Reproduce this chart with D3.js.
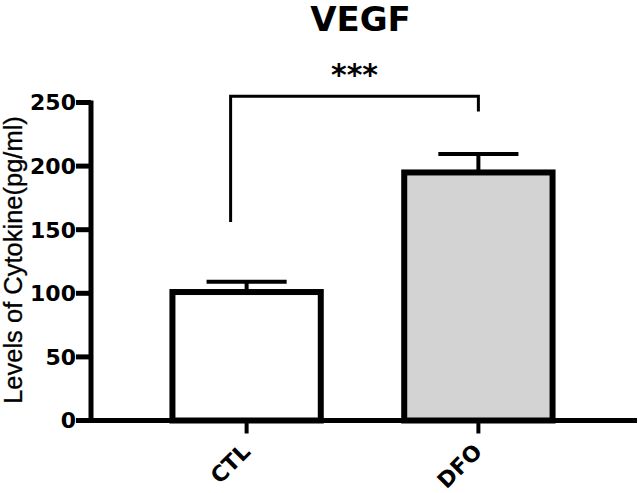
<!DOCTYPE html>
<html>
<head>
<meta charset="utf-8">
<script src="https://cdn.jsdelivr.net/npm/d3@7"></script>
<style>
  html, body { margin: 0; padding: 0; background: #fff; }
  svg { display: block; }
</style>
</head>
<body>
<svg id="chart" width="638" height="493"></svg>
<script>
// ---- data ----
const categories = ["CTL", "DFO"];
const means = [101, 195];
const sems = [8, 14.5];
const fills = ["#ffffff", "#d3d3d3"];
const yTicks = [0, 50, 100, 150, 200, 250];
const title = "VEGF";
const yLabel = "Levels of Cytokine(pg/ml)";
const sigLabel = "***";
const sigBracket = [156, 255, 243]; // left end, bracket level, right end (data units)

// ---- layout ----
const svg = d3.select("#chart");
const plotLeft = 91, plotRight = 637, plotTop = 102.5, plotBottom = 420.5;

const y = d3.scaleLinear().domain([0, 250]).range([plotBottom, plotTop]);
const x = d3.scaleBand().domain(categories).range([89, 636])
  .paddingInner(0.36).paddingOuter(0.36);
const bw = x.bandwidth();
const cx = c => x(c) + bw / 2;

const boldFont = "'DejaVu Sans', sans-serif";

// title
svg.append("text")
  .attr("x", 360.5).attr("y", 31)
  .attr("text-anchor", "middle")
  .attr("font-family", boldFont).attr("font-weight", "bold")
  .attr("font-size", 34).attr("fill", "#000")
  .text(title);

// bars
const g = svg.append("g");
g.selectAll("rect.bar").data(categories).join("rect")
  .attr("class", "bar")
  .attr("x", d => x(d))
  .attr("y", (d, i) => y(means[i]))
  .attr("width", bw)
  .attr("height", (d, i) => y(0) - y(means[i]))
  .attr("fill", (d, i) => fills[i])
  .attr("stroke", "#000").attr("stroke-width", 6);

// error bars (upper only)
const capW = bw * 0.54;
g.selectAll("line.err").data(categories).join("line")
  .attr("class", "err")
  .attr("x1", d => cx(d)).attr("x2", d => cx(d))
  .attr("y1", (d, i) => y(means[i]))
  .attr("y2", (d, i) => y(means[i] + sems[i]))
  .attr("stroke", "#000").attr("stroke-width", 4);
g.selectAll("line.cap").data(categories).join("line")
  .attr("class", "cap")
  .attr("x1", d => cx(d) - capW / 2).attr("x2", d => cx(d) + capW / 2)
  .attr("y1", (d, i) => y(means[i] + sems[i]))
  .attr("y2", (d, i) => y(means[i] + sems[i]))
  .attr("stroke", "#000").attr("stroke-width", 4);

// y axis
const yAxis = svg.append("g");
yAxis.append("line")
  .attr("x1", plotLeft).attr("x2", plotLeft)
  .attr("y1", y(250) - 2).attr("y2", y(0) + 2.5)
  .attr("stroke", "#000").attr("stroke-width", 5);
yAxis.selectAll("line.tick").data(yTicks).join("line")
  .attr("class", "tick")
  .attr("x1", plotLeft - 15).attr("x2", plotLeft)
  .attr("y1", d => y(d)).attr("y2", d => y(d))
  .attr("stroke", "#000").attr("stroke-width", 5);
yAxis.selectAll("text.tl").data(yTicks).join("text")
  .attr("class", "tl")
  .attr("x", plotLeft - 15).attr("y", d => y(d))
  .attr("dy", "0.36em")
  .attr("text-anchor", "end")
  .attr("font-family", boldFont).attr("font-weight", "bold")
  .attr("font-size", 22).attr("fill", "#000")
  .text(d => d);

// y label
svg.append("text")
  .attr("transform", "translate(22,260) rotate(-90)")
  .attr("text-anchor", "middle")
  .attr("font-family", "'Liberation Sans', Arial, sans-serif")
  .attr("font-size", 25.5).attr("fill", "#000")
  .attr("stroke", "#000").attr("stroke-width", 0.3)
  .text(yLabel);

// x axis
const xAxis = svg.append("g");
xAxis.append("line")
  .attr("x1", plotLeft).attr("x2", plotRight)
  .attr("y1", y(0)).attr("y2", y(0))
  .attr("stroke", "#000").attr("stroke-width", 5);
xAxis.selectAll("line.tick").data(categories).join("line")
  .attr("class", "tick")
  .attr("x1", d => cx(d)).attr("x2", d => cx(d))
  .attr("y1", y(0)).attr("y2", y(0) + 13)
  .attr("stroke", "#000").attr("stroke-width", 4);
xAxis.selectAll("text.tl").data(categories).join("text")
  .attr("class", "tl")
  .attr("transform", d => `translate(${cx(d) + 5},453) rotate(-45)`)
  .attr("text-anchor", "end")
  .attr("font-family", boldFont).attr("font-weight", "bold")
  .attr("font-size", 22).attr("fill", "#000")
  .text(d => d);

// significance bracket
const bx1 = cx("CTL") - 16, bx2 = cx("DFO");
svg.append("path")
  .attr("d", `M${bx1},${y(sigBracket[0])}V${y(sigBracket[1])}H${bx2}V${y(sigBracket[2])}`)
  .attr("fill", "none").attr("stroke", "#000").attr("stroke-width", 3);
svg.append("text")
  .attr("x", (bx1 + bx2) / 2).attr("y", 85)
  .attr("text-anchor", "middle")
  .attr("font-family", boldFont).attr("font-weight", "bold")
  .attr("font-size", 30).attr("fill", "#000")
  .text(sigLabel);
</script>
</body>
</html>
